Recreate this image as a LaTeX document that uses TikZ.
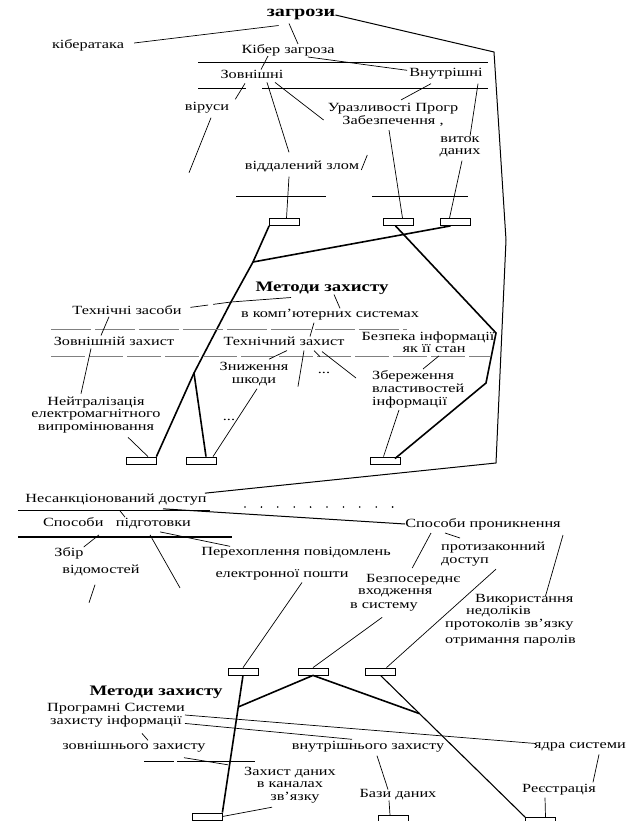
\documentclass[tikz,border=0pt]{standalone}
\usepackage{fontspec}
\setmainfont{Liberation Serif}[FakeStretch=1.3]
\usetikzlibrary{calc,positioning}

\begin{document}
\begin{tikzpicture}[x=1pt,y=-1pt,
  lbl/.style={inner sep=0pt,font=\fontsize{12.5}{12.5}\selectfont,align=center},
  ttl/.style={inner sep=0pt,font=\bfseries\fontsize{14.5}{14.5}\selectfont},
  blk/.style={draw,line width=0.8pt,minimum width=30pt,minimum height=7pt,inner sep=0pt},
  thk/.style={line width=1.6pt},
  thn/.style={line width=0.7pt}]
  \useasboundingbox (0,0) rectangle (634,821);

  % threats
  \node[ttl,font=\bfseries\fontsize{15.5}{15.5}\selectfont] (zag) at (301,15) {загрози};
  \node[lbl] (kat) at (88,45) {кібератака};
  \node[lbl] (kz) at (288,50) {Кібер загроза};
  \node[lbl] (zovn) at (252,74) {Зовнішні};
  \node[lbl] (vnut) at (446,74) {Внутрішні};
  \node[lbl] (vir) at (207,108) {віруси};
  \node[lbl] (uraz) at (393,115) {Уразливості Прогр\\[1pt]Забезпечення ,};
  \node[lbl] (vyt) at (460,147) {виток\\даних};
  \node[lbl] (vzl) at (302,166) {віддалений злом};
  \node[blk] (b1) at (284.5,222) {};
  \node[blk] (b2) at (398.5,222) {};
  \node[blk] (b3) at (455.5,222) {};

  \draw[thn] (198,62) -- (488,62);
  \draw[thn] (198,88) -- (246,88) (262,88) -- (488,88);
  \draw[thn] (236,196) -- (326,196) (372,196) -- (468,196);

  \draw[thn] ($(zag.south west)+(12,5)$) -- ($(kat.east)+(10,-2)$);
  \draw[thn] ($(zag.south)+(-12,3)$) -- ($(kz.north)+(10,0)$);
  \draw[thn] ($(kz.south)+(-20,0)$) -- ($(zovn.north)+(9,0)$);
  \draw[thn] ($(kz.south)+(20,1)$) -- ($(vnut.north west)+(-2,2)$);
  \draw[thn] ($(zovn.south)+(-7,5)$) -- ($(vir.north east)+(6,-3)$);
  \draw[thn] ($(vir.south)+(4,4)$) -- ++(-22,55);
  \draw[thn] ($(zovn.south)+(15,4)$) -- ($(vzl.north)+(-13,-8)$);
  \draw[thn] ($(zovn.south)+(23,4)$) -- ($(uraz.west)+(-4,5)$);
  \draw[thn] ($(vnut.south)+(-15,4)$) -- ($(uraz.north)+(8,-3)$);
  \draw[thn] ($(vnut.south)+(32,4)$) -- ($(vyt.north)+(10,0)$);
  \draw[thn] ($(vyt.south)+(2,3)$) -- ($(b3.north)+(-6,0)$);
  \draw[thn] ($(uraz.south)+(-4,3)$) -- ($(b2.north)+(4,0)$);
  \draw[thn] ($(vzl.east)+(2,4)$) -- ++(6,-15);
  \draw[thn] ($(vzl.south)+(-13,5)$) -- ($(b1.north)+(2,0)$);

  % methods of protection
  \node[ttl] (mz1) at (322,288) {Методи захисту};
  \node[lbl] (tz) at (127,310) {Технічні засоби};
  \node[lbl] (vks) at (330,315) {в комп'ютерних системах};
  \node[lbl] (zz) at (114,341) {Зовнішній захист};
  \node[lbl] (tehz) at (284,341) {Технічний захист};
  \node[lbl] (bez) at (428,342) {Безпека інформації\\\hspace*{12pt}як її стан};
  \node[lbl] (zn) at (254,374) {Зниження\\шкоди};
  \node[lbl] (dd1) at (324,373) {...};
  \node[lbl] (dd2) at (229,420) {...};
  \node[lbl,align=left,anchor=west] (zber) at (372,389) {Збереження\\[1pt]властивостей\\інформації};
  \node[lbl] (ney) at (96,415) {Нейтралізація\\електромагнітного\\випромінювання};
  \node[blk] (b4) at (141,460.5) {};
  \node[blk] (b5) at (201,460.5) {};
  \node[blk] (b6) at (385.5,460.5) {};

  \coordinate (m1) at (253,262);
  \coordinate (m2) at (231,302);
  \coordinate (m3) at (194,373);
  \coordinate (m4) at (496,333);
  \coordinate (m5) at (486,383);
  \draw[thk] (b1.south west) -- (m1) -- (m2) -- (m3) -- (b4.north east);
  \draw[thk] (m3) -- ($(b5.north)+(5,0)$);
  \draw[thk] ($(b3.south)+(-5,0)$) -- (m1);
  \draw[thk] ($(b2.south)+(-3,0)$) -- (m4) -- (m5) -- ($(b6.north east)+(-6,2)$);

  \draw[thn] ($(mz1.south)+(-31,3)$) -- (m2);
  \draw[thn,dash pattern=on 18pt off 5pt] (m2) -- ($(tz.east)+(4,-2)$);
  \draw[thn] ($(mz1.south)+(12,0)$) -- ($(vks.north)+(10,-1)$);
  \draw[gray,line width=0.7pt,dash pattern=on 40pt off 4pt] (51,329) -- (407,329);
  \draw[gray,line width=0.7pt,dash pattern=on 34pt off 4pt] (51,356) -- (490,356);
  \draw[thn] ($(tz.south)+(-18,2)$) -- ($(zz.north)+(-13,-1)$);
  \draw[thn] ($(vks.south)+(-16,2)$) -- ($(tehz.north)+(26,0)$);
  \draw[thn] ($(zz.south)+(-23,3)$) -- ($(ney.north)+(-15,-3)$);
  \draw[thn] ($(ney.south)+(32,4)$) -- ($(b4.north)+(7,0)$);
  \draw[thn] ($(tehz.south)+(3,5)$) -- ($(zn.north)+(15,-3)$);
  \draw[thn] ($(tehz.south)+(20,5)$) -- ++(-6,36);
  \draw[thn] ($(tehz.south)+(30,5)$) -- ++(6,6);
  \draw[thn] ($(tehz.south)+(38,6)$) -- ($(zber.west)+(-16,-11)$);
  \draw[thn] ($(bez.south)+(11,3)$) -- ($(zber.north west)+(51,-1)$);
  \draw[thn] ($(zn.south)+(3,3)$) -- ($(b5.north)+(12,0)$);
  \draw[thn] ($(zber.south west)+(27,2)$) -- ($(b6.north)+(-2,0)$);

  % unauthorised access
  \node[lbl] (nsd) at (116,500) {Несанкціонований доступ};
  \node[lbl] (sp) at (117,523) {Способи\quad підготовки};
  \node[lbl] (zb) at (69,553) {Збір};
  \node[lbl] (zbv) at (101,570) {відомостей};
  \node[lbl] (per) at (296,553) {Перехоплення повідомлень};
  \node[lbl] (epost) at (282,575) {електронної пошти};
  \node[lbl] (spr) at (483,524) {Способи проникнення};
  \node[lbl,align=left,anchor=north west] (prot) at (441,542) {протизаконний\\доступ};
  \node[lbl,align=left,anchor=north west] (bsp) at (350,574) {\hspace*{16pt}Безпосереднє\\\hspace*{8pt}входження\\[1pt]в систему};
  \node[lbl,align=left,anchor=north west] (vyk) at (445,594) {\hspace*{30pt}Використання\\\hspace*{21pt}недоліків\\протоколів зв'язку\\[4pt]отримання паролів};
  \node[blk] (b7) at (243,671.5) {};
  \node[blk] (b8) at (313,671.5) {};
  \node[blk] (b9) at (380.5,671.5) {};

  \coordinate (f1) at (494,52);
  \coordinate (f2) at (506,240);
  \coordinate (f3) at (496,463);
  \draw[line width=1pt] (zag.east) -- (f1) -- (f2) -- (f3) -- ($(nsd.north east)+(-2,-1)$);

  \draw[thn] (18,510) -- (210,510);
  \draw[line width=1pt] ($(nsd.south)+(47,3)$) -- (spr.west);
  \foreach \i in {0,...,9}
    \fill (245+\i*16.4,507) circle (0.9pt);
  \draw[thn] ($(nsd.south)+(4,5)$) -- ($(sp.north)+(8,0)$);
  \draw[thk] (18,537) -- (232,537);
  \draw[thn] ($(sp.south)+(-18,6)$) -- ($(zb.north east)+(0,0)$);
  \draw[thn] ($(zbv.south)+(-6,9)$) -- ++(-6,18);
  \draw[thn] ($(sp.south)+(33,6)$) -- ++(30,53);
  \draw[thn] ($(sp.south)+(43,3)$) -- ($(per.north west)+(29,-1)$);
  \draw[thn] ($(spr.south)+(-52,3)$) -- ($(bsp.north)+(7,-6)$);
  \draw[thn] ($(spr.south)+(-38,3)$) -- ($(prot.north west)+(19,-4)$);
  \draw[thn] ($(spr.south)+(80,5)$) -- ($(vyk.north)+(35,2)$);
  \draw[thn] ($(epost.south)+(20,2)$) -- (b7.north);
  \draw[thn] ($(bsp.south)+(-23,6)$) -- (b8.north);
  \draw[thn] ($(prot.south west)+(55,3)$) -- ($(b9.north)+(6,0)$);

  % software protection
  \node[ttl] (mz2) at (156,692) {Методи захисту};
  \node[lbl] (ps) at (116,715) {Програмні Системи\\[1pt]захисту інформації};
  \node[lbl] (znz) at (134,747) {зовнішнього захисту};
  \node[lbl] (vnz) at (368,747) {внутрішнього захисту};
  \node[lbl] (yadra) at (580,747) {ядра системи};
  \node[lbl] (zd) at (290,785) {Захист даних\\в каналах\\\hspace*{10pt}зв'язку};
  \node[lbl] (bd) at (398,795) {Бази даних};
  \node[lbl] (reg) at (559,790) {Реєстрація};
  \node[blk] (b10) at (207,816.5) {};
  \node[blk] (b11) at (393,819) {};
  \node[blk] (b12) at (540.5,821) {};

  \coordinate (j1) at ($(b7.south)!0.23!(b10.north east)$);
  \coordinate (j2) at ($(b9.south)!0.27!(b12.north west)$);
  \draw[thk] (b7.south) -- (b10.north east);
  \draw[thk] (j1) -- (b8.south) -- (j2);
  \draw[line width=1.1pt] (b9.south) -- (b12.north west);
  \draw[thn] (ps.east) -- ($(yadra.north west)+(2,1)$);
  \draw[thn] ($(ps.south east)+(0,-4)$) -- ($(vnz.north)+(-16,-2)$);
  \draw[thn] ($(ps.south)+(26,6)$) -- ($(znz.north)+(14,-1)$);
  \draw[thn] (144,761) -- (174,761) (177,761) -- (255,761);
  \draw[thn] ($(znz.south)+(50,5)$) -- ($(zd.north west)+(-16,-2)$);
  \draw[thn] ($(zd.south west)+(28,4)$) -- (b10.east);
  \draw[thn] ($(vnz.south)+(9,3)$) -- ($(bd.north)+(-10,0)$);
  \draw[thn] ($(bd.south)+(-9,0)$) -- ($(b11.north)+(-3,0)$);
  \draw[thn] ($(yadra.south)+(19,3)$) -- ($(reg.north)+(34,-2)$);
  \draw[thn] ($(reg.south)+(-14,2)$) -- ($(b12.north)+(5,0)$);
\end{tikzpicture}
\end{document}
